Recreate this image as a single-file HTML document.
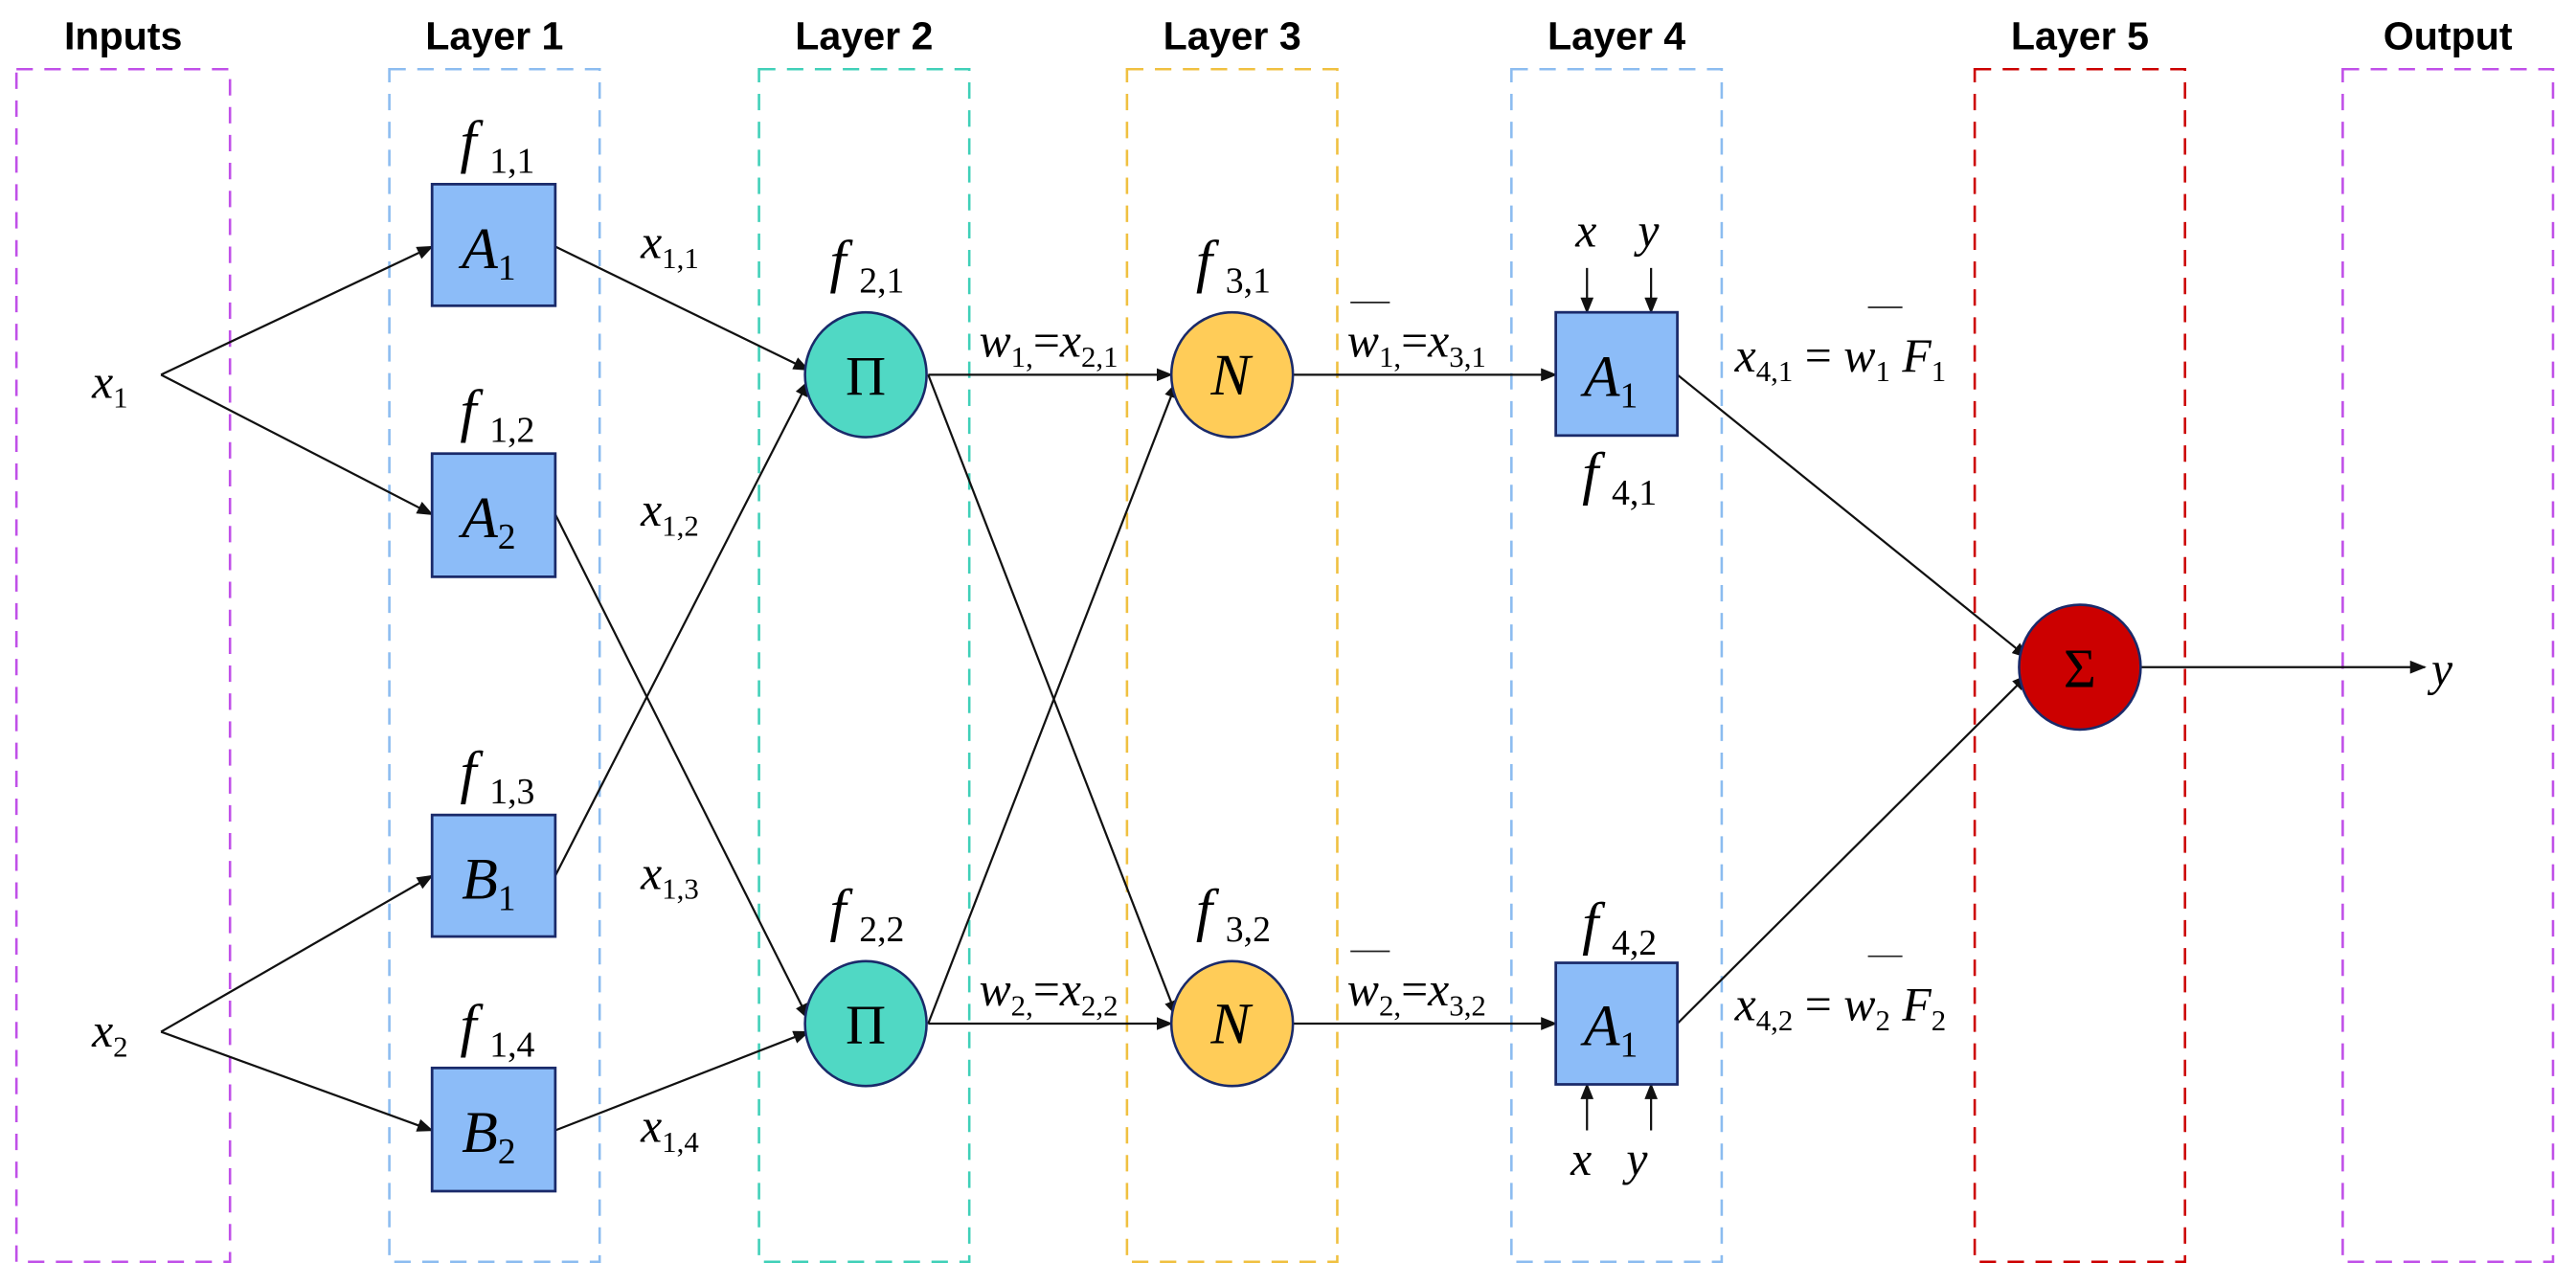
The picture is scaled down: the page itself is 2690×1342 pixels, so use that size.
<!DOCTYPE html>
<html><head><meta charset="utf-8"><style>html,body{margin:0;padding:0;background:#fff}svg{display:block}
.t{font-family:"Liberation Sans",sans-serif;font-weight:bold;font-size:24px;text-anchor:middle}
.m{font-family:"Liberation Serif",serif;font-style:italic;font-size:29px}
.s{font-style:normal;font-size:18px}
.b{font-size:36px}
.b .s{font-size:22px}
</style></head><body>
<svg width="2690" height="1342" viewBox="0 0 1568 782" xmlns="http://www.w3.org/2000/svg">
<defs><marker id="a" markerWidth="10" markerHeight="8" refX="9" refY="4" orient="auto" markerUnits="userSpaceOnUse"><path d="M0,0L10,4L0,8z" fill="#111"/></marker></defs>
<g fill="none" stroke-width="1.5" stroke-dasharray="10,7">
<rect x="10" y="42" width="130" height="726" stroke="#c050e8"/>
<rect x="237" y="42" width="128" height="726" stroke="#8cbcf0"/>
<rect x="462" y="42" width="128" height="726" stroke="#40d0b8"/>
<rect x="686" y="42" width="128" height="726" stroke="#f0c040"/>
<rect x="920" y="42" width="128" height="726" stroke="#8cbcf0"/>
<rect x="1202" y="42" width="128" height="726" stroke="#cc0000"/>
<rect x="1426" y="42" width="128" height="726" stroke="#c050e8"/>
</g>
<g class="t"><text x="75" y="30">Inputs</text><text x="301" y="30">Layer 1</text><text x="526" y="30">Layer 2</text><text x="750" y="30">Layer 3</text><text x="984" y="30">Layer 4</text><text x="1266" y="30">Layer 5</text><text x="1490" y="30">Output</text></g>
<g stroke="#111" stroke-width="1.3" fill="none" marker-end="url(#a)">
<line x1="98" y1="228" x2="263" y2="150"/><line x1="98" y1="228" x2="263" y2="313"/>
<line x1="98" y1="628" x2="263" y2="533"/><line x1="98" y1="628" x2="263" y2="688"/>
<line x1="338" y1="150" x2="492" y2="225"/><line x1="338" y1="313" x2="492" y2="620"/>
<line x1="338" y1="533" x2="492" y2="232"/><line x1="338" y1="688" x2="492" y2="628"/>
<line x1="565" y1="228" x2="713" y2="228"/><line x1="565" y1="228" x2="716" y2="618"/>
<line x1="565" y1="623" x2="716" y2="233"/><line x1="565" y1="623" x2="713" y2="623"/>
<line x1="787" y1="228" x2="947" y2="228"/><line x1="787" y1="623" x2="947" y2="623"/>
<line x1="1021" y1="228" x2="1234" y2="400"/><line x1="1021" y1="623" x2="1234" y2="411"/>
<line x1="1303" y1="406" x2="1476" y2="406"/>
<line x1="966" y1="163" x2="966" y2="190"/><line x1="1005" y1="163" x2="1005" y2="190"/>
<line x1="966" y1="688" x2="966" y2="660"/><line x1="1005" y1="688" x2="1005" y2="660"/>
</g>
<g fill="#8cbcf8" stroke="#1a2a6a" stroke-width="1.6">
<rect x="263" y="112" width="75" height="74"/><rect x="263" y="276" width="75" height="75"/>
<rect x="263" y="496" width="75" height="74"/><rect x="263" y="650" width="75" height="75"/>
<rect x="947" y="190" width="74" height="75"/><rect x="947" y="586" width="74" height="74"/>
</g>
<g stroke="#1a2a6a" stroke-width="1.5">
<ellipse cx="527" cy="228" rx="37" ry="38" fill="#50d8c4"/><ellipse cx="527" cy="623" rx="37" ry="38" fill="#50d8c4"/>
<ellipse cx="750" cy="228" rx="37" ry="38" fill="#ffcc58"/><ellipse cx="750" cy="623" rx="37" ry="38" fill="#ffcc58"/>
<ellipse cx="1266" cy="406" rx="37" ry="38" fill="#cc0000"/>
</g>
<g font-family="Liberation Serif,serif" font-size="34" text-anchor="middle">
<text x="527" y="240">Π</text><text x="527" y="635">Π</text><text x="1266" y="418">Σ</text>
</g>
<g class="m">
<g class="b">
<text x="281" y="163">A<tspan class="s" dy="7">1</tspan></text>
<text x="281" y="327">A<tspan class="s" dy="7">2</tspan></text>
<text x="281" y="547">B<tspan class="s" dy="7">1</tspan></text>
<text x="281" y="701">B<tspan class="s" dy="7">2</tspan></text>
<text x="964" y="241">A<tspan class="s" dy="7">1</tspan></text>
<text x="964" y="636">A<tspan class="s" dy="7">1</tspan></text>
<text x="737" y="240">N</text><text x="737" y="635">N</text>
<text x="280" y="98">f<tspan class="s" dx="8" dy="7">1,1</tspan></text>
<text x="280" y="262">f<tspan class="s" dx="8" dy="7">1,2</tspan></text>
<text x="280" y="482">f<tspan class="s" dx="8" dy="7">1,3</tspan></text>
<text x="280" y="636">f<tspan class="s" dx="8" dy="7">1,4</tspan></text>
<text x="505" y="171">f<tspan class="s" dx="8" dy="7">2,1</tspan></text>
<text x="505" y="566">f<tspan class="s" dx="8" dy="7">2,2</tspan></text>
<text x="728" y="171">f<tspan class="s" dx="8" dy="7">3,1</tspan></text>
<text x="728" y="566">f<tspan class="s" dx="8" dy="7">3,2</tspan></text>
<text x="963" y="300">f<tspan class="s" dx="8" dy="7">4,1</tspan></text>
<text x="963" y="574">f<tspan class="s" dx="8" dy="7">4,2</tspan></text>
</g>
<text x="56" y="242">x<tspan class="s" dy="6">1</tspan></text>
<text x="56" y="637">x<tspan class="s" dy="6">2</tspan></text>
<text x="390" y="157">x<tspan class="s" dy="6">1,1</tspan></text>
<text x="390" y="320">x<tspan class="s" dy="6">1,2</tspan></text>
<text x="390" y="541">x<tspan class="s" dy="6">1,3</tspan></text>
<text x="390" y="695">x<tspan class="s" dy="6">1,4</tspan></text>
<text x="596" y="217">w<tspan class="s" dy="6">1,</tspan><tspan font-style="normal" dy="-6">=</tspan>x<tspan class="s" dy="6">2,1</tspan></text>
<text x="596" y="612">w<tspan class="s" dy="6">2,</tspan><tspan font-style="normal" dy="-6">=</tspan>x<tspan class="s" dy="6">2,2</tspan></text>
<text x="820" y="217">w<tspan class="s" dy="6">1,</tspan><tspan font-style="normal" dy="-6">=</tspan>x<tspan class="s" dy="6">3,1</tspan></text>
<text x="820" y="612">w<tspan class="s" dy="6">2,</tspan><tspan font-style="normal" dy="-6">=</tspan>x<tspan class="s" dy="6">3,2</tspan></text>
<text x="1056" y="226">x<tspan class="s" dy="6">4,1</tspan><tspan font-style="normal" dy="-6"> = </tspan>w<tspan class="s" dy="6">1</tspan><tspan dy="-6"> F</tspan><tspan class="s" dy="6">1</tspan></text>
<text x="1056" y="621">x<tspan class="s" dy="6">4,2</tspan><tspan font-style="normal" dy="-6"> = </tspan>w<tspan class="s" dy="6">2</tspan><tspan dy="-6"> F</tspan><tspan class="s" dy="6">2</tspan></text>
<text x="959" y="150">x</text><text x="997" y="150">y</text>
<text x="956" y="715">x</text><text x="990" y="715">y</text>
<text x="1480" y="417">y</text>
</g>
<g stroke="#222" stroke-width="1">
<line x1="822" y1="184" x2="846" y2="184"/><line x1="822" y1="579" x2="846" y2="579"/>
<line x1="1137" y1="187" x2="1158" y2="187"/><line x1="1137" y1="582" x2="1158" y2="582"/>
</g>
</svg>
</body></html>
